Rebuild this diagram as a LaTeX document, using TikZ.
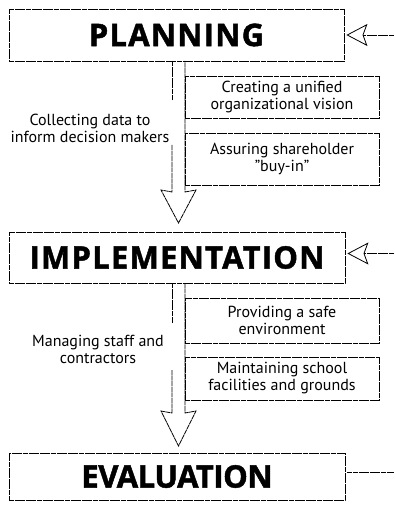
\documentclass[tikz,border=0pt]{standalone}
\usepackage{fontspec}
\setmainfont{PT Sans}
\newfontfamily\titlefont[LetterSpace=4,BoldFeatures={FakeBold=1.5}]{Open Sans}
\usetikzlibrary{arrows.meta}
\tikzset{
  ln/.style={line width=0.8pt, dash pattern=on 5pt off 0.6pt},
  stage/.style={draw, ln, inner sep=0pt, font=\titlefont\bfseries\fontsize{31}{32}\selectfont},
  task/.style={draw, ln, inner sep=0pt, minimum width=194pt, align=center, font=\fontsize{16}{17}\selectfont},
  lbl/.style={align=center, font=\fontsize{16}{17}\selectfont},
  hollow/.style={ln, line join=miter},
  feed/.style={ln, -{Stealth[open, length=21pt, width=22pt, inset=4pt]}}
}
\begin{document}
\begin{tikzpicture}[x=1pt,y=-1pt]
\useasboundingbox (0,0) rectangle (394,505);
% stages
\node[stage, minimum width=335pt, minimum height=52pt] (plan) at (176.5,35) {PLANNING};
\node[stage, minimum width=336pt, minimum height=51pt] (impl) at (177,257.5) {IMPLEMENTATION};
\node[stage, minimum width=336pt, minimum height=47pt] (eval) at (177,476.5) {\addfontfeature{LetterSpace=-1.5}EVALUATION};
% tasks
\node[task, minimum height=42pt] (t1) at (282,97) {Creating a unified\\organizational vision};
\node[task, minimum height=52pt] (t2) at (282,159) {Assuring shareholder\\\char"22 buy-in\char"22};
\node[task, minimum height=45pt] (t3) at (282,320.5) {Providing a safe\\environment};
\node[task, minimum height=43pt] (t4) at (282,378.5) {Maintaining school\\facilities and grounds};
% labels
\node[lbl] (l1) at (90,128) {Collecting data to\\inform decision makers};
\node[lbl] (l2) at (98,349) {Managing staff and\\contractors};
% hollow arrow 1
\coordinate (sL1) at (172,61);
\coordinate (gA1) at (172,100);
\coordinate (gB1) at (172,145);
\coordinate (aL1) at (172,192);
\coordinate (wL1) at (161,190);
\coordinate (tip1) at (178.5,223);
\coordinate (wR1) at (196,190);
\coordinate (aR1) at (185,192);
\coordinate (sR1) at (185,61);
\draw[hollow] (sL1) -- (gA1);
\draw[hollow] (gB1) -- (aL1) -- (wL1) -- (tip1) -- (wR1) -- (aR1) -- (sR1);
% hollow arrow 2
\coordinate (sL2) at (172,283);
\coordinate (gA2) at (172,323);
\coordinate (gB2) at (172,370);
\coordinate (aL2) at (172,413);
\coordinate (wL2) at (161,411);
\coordinate (tip2) at (178.5,446);
\coordinate (wR2) at (196,411);
\coordinate (aR2) at (185,413);
\coordinate (sR2) at (185,283);
\draw[hollow] (sL2) -- (gA2);
\draw[hollow] (gB2) -- (aL2) -- (wL2) -- (tip2) -- (wR2) -- (aR2) -- (sR2);
% feedback lines
\coordinate (in1) at (394,35);
\coordinate (in2) at (394,253.5);
\coordinate (out3) at (394,472.5);
\draw[feed] (in1) -- ([xshift=2pt]plan.east);
\draw[feed] (in2) -- ([xshift=2pt,yshift=4pt]impl.east);
\draw[ln] ([xshift=2pt,yshift=4pt]eval.east) -- (out3);
\end{tikzpicture}
\end{document}
